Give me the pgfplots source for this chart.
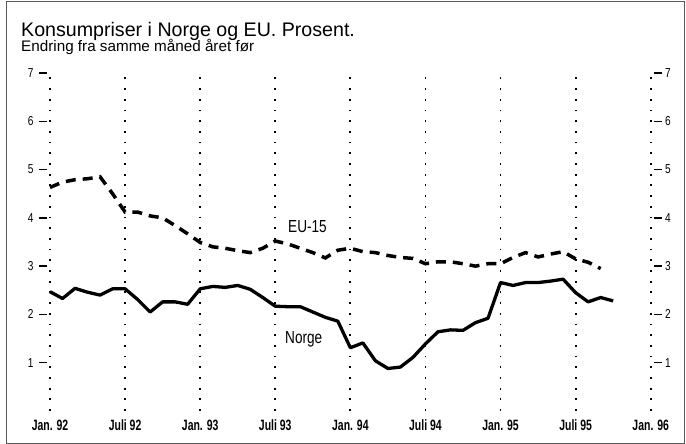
\documentclass[border=0pt]{standalone}
\usepackage{fontspec}
\setmainfont{Liberation Sans}
\newfontfamily\cond[FakeStretch=0.78]{Liberation Sans}
\newfontfamily\condx[FakeStretch=0.70]{Liberation Sans}
\usepackage{pgfplots}
\pgfplotsset{compat=1.18}
\usepackage{pgfplotstable}

\pgfplotstableread{
m v
0 2.47
1 2.33
2 2.54
3 2.46
4 2.40
5 2.53
6 2.53
7 2.31
8 2.05
9 2.26
10 2.26
11 2.21
12 2.53
13 2.58
14 2.56
15 2.60
16 2.52
17 2.35
18 2.17
19 2.16
20 2.16
21 2.05
22 1.94
23 1.86
24 1.31
25 1.41
26 1.04
27 0.88
28 0.91
29 1.11
30 1.39
31 1.64
32 1.68
33 1.67
34 1.83
35 1.92
36 2.66
37 2.60
38 2.66
39 2.66
40 2.69
41 2.73
42 2.45
43 2.26
44 2.35
45 2.28
}\norge

\pgfplotstableread{
m v
0 4.63
1 4.74
2 4.79
3 4.81
4 4.85
5 4.50
6 4.12
7 4.12
8 4.04
9 4.00
10 3.84
11 3.67
12 3.49
13 3.40
14 3.37
15 3.32
16 3.28
17 3.37
18 3.52
19 3.46
20 3.37
21 3.28
22 3.17
23 3.33
24 3.37
25 3.30
26 3.28
27 3.22
28 3.18
29 3.16
30 3.05
31 3.09
32 3.09
33 3.05
34 3.00
35 3.05
36 3.05
37 3.18
38 3.28
39 3.19
40 3.25
41 3.30
42 3.15
43 3.08
44 2.95
}\eu

\pgfplotsset{
  base/.style={
    at={(50bp,33bp)}, anchor=south west,
    scale only axis, width=600.7bp, height=338bp,
    xmin=0, xmax=48, ymin=0, ymax=7,
    axis line style={draw=none},
    xtick={0,6,...,48},
    ytick={1,2,...,7},
    tick align=outside,
    major tick length=8bp,
    xtick style={draw=none},
    /pgf/number format/assume math mode=true,
    yticklabel style={font=\cond\fontsize{13}{13}\selectfont},
    xticklabel style={font=\condx\bfseries\fontsize{15}{15}\selectfont,
      text height=10.8bp, text depth=0bp, anchor=north, yshift=3bp},
    clip=false,
  }
}

\begin{document}
\begin{tikzpicture}[x=1bp,y=1bp]
\useasboundingbox (0,0) rectangle (686,444);
\draw[gray!70!black, line width=0.9bp] (6,1) rectangle (684,443);
\node[anchor=base west, inner sep=0, font=\fontsize{19.7}{20}\selectfont] at (21,407) {Konsumpriser i Norge og EU. Prosent.};
\node[anchor=base west, inner sep=0, font=\fontsize{15.3}{16}\selectfont] at (21,392) {Endring fra samme måned året før};

\begin{axis}[base,
  ytick pos=left,
  ytick style={black, line width=1.4bp, xshift=-3bp},
  yticklabel style={xshift=-5bp},
  xticklabels={Jan. 92,Juli 92,Jan. 93,Juli 93,Jan. 94,Juli 94,Jan. 95,Juli 95,Jan. 96},
  xmajorgrids,
  major grid style={black, line width=1.8bp, dash pattern=on 1.8bp off 8.9bp},
]
\addplot[black, line width=3.3bp, line join=round] table[x=m, y=v] {\norge};
\addplot[black, line width=3.5bp, dash pattern=on 10bp off 7bp] table[x=m, y=v] {\eu};
\end{axis}

\begin{axis}[base,
  ytick pos=right,
  yticklabel pos=right,
  ytick style={black, line width=1.4bp, xshift=3bp},
  yticklabel style={xshift=3bp},
  xticklabels={},
]
\end{axis}

\node[anchor=base west, inner sep=0, font=\cond\fontsize{17.5}{18}\selectfont] at (288,211) {EU-15};
\node[anchor=base west, inner sep=0, font=\cond\fontsize{17.5}{18}\selectfont] at (285,100) {Norge};
\end{tikzpicture}
\end{document}
